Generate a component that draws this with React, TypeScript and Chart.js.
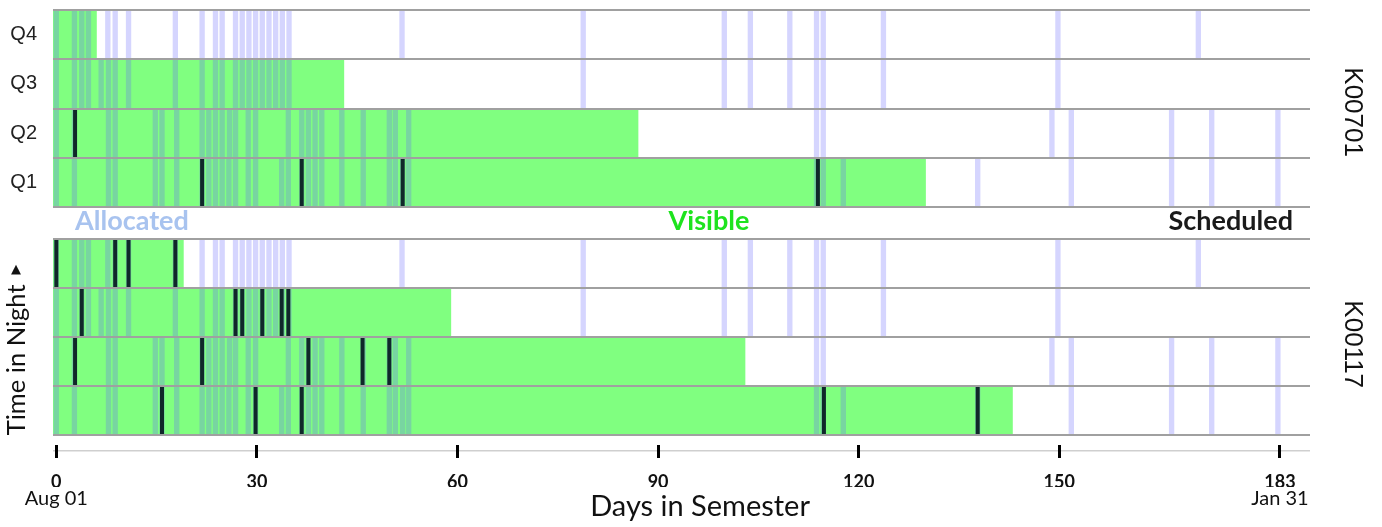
import React, { useEffect, useRef } from 'react';
import { Chart, registerables } from 'chart.js';

Chart.register(...registerables);

// ---------- data ----------
const ROWS = ['Q4', 'Q3', 'Q2', 'Q1'];
const DAY_MIN = -0.5;
const DAY_MAX = 187.5;
const DAY_TICKS = [0, 30, 60, 90, 120, 150, 183];
const DATE_TICKS = [0, 183];
const DATE_LABELS = ['Aug 01', 'Jan 31'];
const PROGRAMS = ['K00701', 'K00117'];
const LEGEND_LABELS = ['Allocated', 'Visible', 'Scheduled'];

const VISIBLE_START = -0.5;
const VISIBLE_END_K00701 = [6, 43, 87, 130];
const VISIBLE_END_K00117 = [19, 59, 103, 143];

const ALLOCATED_Q4 = [0, 2.7, 3.8, 4.8, 7.7, 8.8, 10.8, 17.8, 21.8, 23.8, 24.8, 26.8, 27.8, 28.8, 29.8, 30.8, 31.8, 32.8, 33.8, 34.8, 51.7, 78.8, 99.9, 103.8, 109.7, 113.7, 114.7, 123.7, 149.8, 170.8];
const ALLOCATED_Q3 = [0, 2.7, 3.8, 4.8, 6.7, 7.8, 8.8, 10.8, 17.8, 21.8, 23.8, 24.8, 26.8, 27.8, 28.8, 29.8, 30.8, 31.8, 32.8, 33.8, 34.8, 78.8, 99.9, 103.8, 109.7, 113.7, 114.7, 123.7, 149.8];
const ALLOCATED_Q2 = [0, 2.7, 7.8, 8.8, 14.8, 15.8, 18.0, 21.8, 22.8, 23.8, 24.8, 25.9, 26.8, 28.7, 29.8, 34.7, 36.7, 37.7, 38.7, 39.7, 42.7, 45.9, 49.8, 50.7, 52.7, 113.7, 114.7, 148.9, 151.8, 166.8, 172.8, 182.7];
const ALLOCATED_Q1 = [0, 2.7, 7.8, 8.8, 14.8, 15.8, 18.0, 21.8, 22.8, 23.8, 24.8, 25.8, 26.8, 28.7, 29.8, 33.7, 34.7, 36.7, 37.7, 38.7, 39.7, 42.7, 45.9, 49.8, 50.7, 51.8, 52.7, 113.7, 114.7, 117.7, 137.8, 151.8, 166.8, 172.8, 182.7];

const SCHEDULED_K00701_Q4: number[] = [];
const SCHEDULED_K00701_Q3: number[] = [];
const SCHEDULED_K00701_Q2 = [2.8];
const SCHEDULED_K00701_Q1 = [21.8, 36.7, 51.8, 113.9];

const SCHEDULED_K00117_Q4 = [0, 8.8, 10.8, 17.8];
const SCHEDULED_K00117_Q3 = [3.8, 26.8, 27.8, 30.8, 33.7, 34.7];
const SCHEDULED_K00117_Q2 = [2.8, 21.8, 37.7, 45.8, 49.8];
const SCHEDULED_K00117_Q1 = [15.8, 29.8, 36.7, 114.8, 137.8];

const ALLOCATED = [ALLOCATED_Q4, ALLOCATED_Q3, ALLOCATED_Q2, ALLOCATED_Q1];
const SCHEDULED_K00701 = [SCHEDULED_K00701_Q4, SCHEDULED_K00701_Q3, SCHEDULED_K00701_Q2, SCHEDULED_K00701_Q1];
const SCHEDULED_K00117 = [SCHEDULED_K00117_Q4, SCHEDULED_K00117_Q3, SCHEDULED_K00117_Q2, SCHEDULED_K00117_Q1];

// ---------- style ----------
const GREEN = '#80ff80';
const ALLOC_COLOR = 'rgba(100,100,250,0.27)';
const SCHED_COLOR = '#10282a';
const ROW_LINE = '#a0a0a0';
const ALLOC_HALF = 0.35;
const SCHED_HALF = 0.25;
const W = 1382;
const PLOT_LEFT = 53;
const PLOT_RIGHT_GAP = 72;

function panelConfig(program: string, visibleEnds: number[], scheduled: number[][], showRowLabels: boolean, leftTitle: string | null, rightShift: string, pad: { top: number; bottom: number }): any {
  const visibleData = ROWS.map((row, i) => ({ y: row, x: [VISIBLE_START, visibleEnds[i]] }));
  const allocData = ROWS.flatMap((row, i) => ALLOCATED[i].map((d) => ({ y: row, x: [d - ALLOC_HALF, d + ALLOC_HALF] })));
  const schedData = ROWS.flatMap((row, i) => scheduled[i].map((d) => ({ y: row, x: [d - SCHED_HALF, d + SCHED_HALF] })));
  const common = { barPercentage: 1, categoryPercentage: 1, grouped: false, borderWidth: 0 };
  return {
    type: 'bar',
    data: {
      labels: ROWS,
      datasets: [
        { label: 'Visible', data: visibleData, backgroundColor: GREEN, order: 3, ...common },
        { label: 'Allocated', data: allocData, backgroundColor: ALLOC_COLOR, order: 2, ...common },
        { label: 'Scheduled', data: schedData, backgroundColor: SCHED_COLOR, order: 1, ...common },
      ],
    },
    options: {
      indexAxis: 'y',
      animation: false,
      responsive: true,
      maintainAspectRatio: false,
      events: [],
      layout: { padding: { top: pad.top, bottom: pad.bottom, left: 0, right: 0 } },
      plugins: { legend: { display: false }, tooltip: { enabled: false } },
      scales: {
        x: { type: 'linear', min: DAY_MIN, max: DAY_MAX, display: false },
        y: {
          type: 'category',
          position: 'left',
          offset: true,
          grid: { offset: true, color: ROW_LINE, lineWidth: 2, drawTicks: false, z: 1 },
          border: { display: false },
          ticks: {
            display: showRowLabels,
            padding: 16,
            color: '#222',
            font: { family: 'Liberation Sans, Arial, sans-serif', size: 20 },
          },
          title: leftTitle
            ? {
                display: true,
                text: leftTitle,
                color: '#111',
                font: { family: 'Lato', size: 25.5 },
                padding: { top: 1, bottom: 0 },
              }
            : { display: false },
          afterFit: (s: any) => {
            s.width = PLOT_LEFT;
            s.paddingTop = 0;
            s.paddingBottom = 0;
          },
        },
        y2: {
          type: 'linear',
          position: 'right',
          grid: { display: false },
          border: { display: false },
          ticks: { display: false },
          title: {
            display: true,
            text: rightShift + program,
            color: '#111',
            font: { family: 'Liberation Sans, Arial, sans-serif', size: 26 },
            padding: { top: 14, bottom: 0 },
          },
          afterFit: (s: any) => {
            s.width = PLOT_RIGHT_GAP;
            s.paddingTop = 0;
            s.paddingBottom = 0;
          },
        },
      },
    },
  };
}

function axisConfig(): any {
  return {
    type: 'scatter',
    data: { datasets: [] },
    options: {
      animation: false,
      responsive: true,
      maintainAspectRatio: false,
      events: [],
      layout: { padding: { top: 7, bottom: 0, left: PLOT_LEFT, right: PLOT_RIGHT_GAP } },
      plugins: { legend: { display: false }, tooltip: { enabled: false } },
      scales: {
        x: {
          type: 'linear',
          position: 'bottom',
          weight: 0,
          min: DAY_MIN,
          max: DAY_MAX,
          afterBuildTicks: (s: any) => {
            s.ticks = DAY_TICKS.map((v) => ({ value: v }));
          },
          ticks: {
            autoSkip: false,
            maxRotation: 0,
            padding: 13,
            color: '#111',
            font: { family: 'Lato', size: 18, weight: 'bold' },
            callback: (v: any) => String(v),
          },
          grid: { color: '#000', lineWidth: 3, drawOnChartArea: true, drawTicks: false, z: -1 },
          border: { display: false },
          afterFit: (s: any) => {
            s.height = 29;
            s.paddingTop = 0;
            s.paddingBottom = 0;
          },
        },
        x2: {
          type: 'linear',
          position: 'bottom',
          weight: 1,
          min: DAY_MIN,
          max: DAY_MAX,
          afterBuildTicks: (s: any) => {
            s.ticks = DATE_TICKS.map((v) => ({ value: v }));
          },
          ticks: {
            autoSkip: false,
            maxRotation: 0,
            padding: 0,
            color: '#111',
            font: { family: 'Lato', size: 20 },
            callback: (_v: any, i: number) => DATE_LABELS[i],
          },
          grid: { display: false, drawTicks: false },
          border: { display: false },
          title: {
            display: true,
            text: '     Days in Semester',
            color: '#111',
            font: { family: 'Lato', size: 29 },
            padding: { top: 0, bottom: 3 },
          },
          afterFit: (s: any) => {
            s.height = 40;
            s.paddingTop = 0;
            s.paddingBottom = 0;
          },
        },
        y: {
          type: 'linear',
          display: true,
          min: 0,
          max: 13,
          afterBuildTicks: (s: any) => {
            s.ticks = [{ value: 7 }];
          },
          ticks: { display: false },
          grid: { color: '#cfcfcf', lineWidth: 1.5, drawTicks: false, z: -2 },
          border: { display: false },
          afterFit: (s: any) => {
            s.width = 0;
          },
        },
      },
    },
  };
}

function ChartBox({ make, left, top, width, height }: { make: () => any; left: number; top: number; width: number; height: number }) {
  const ref = useRef<HTMLCanvasElement | null>(null);
  useEffect(() => {
    if (!ref.current) return;
    const chart = new Chart(ref.current, make());
    return () => chart.destroy();
  }, []);
  return (
    <div style={{ position: 'absolute', left, top, width, height }}>
      <canvas ref={ref} />
    </div>
  );
}

const legendBase: React.CSSProperties = {
  position: 'absolute',
  top: 206,
  fontFamily: 'Lato, sans-serif',
  fontWeight: 700,
  fontSize: 27,
  lineHeight: '27px',
  whiteSpace: 'nowrap',
};

export default function App() {
  return (
    <div style={{ position: 'fixed', left: 0, top: 0, width: W, height: 527, background: '#fff', overflow: 'hidden' }}>
      <ChartBox
        make={() => panelConfig(PROGRAMS[0], VISIBLE_END_K00701, SCHEDULED_K00701, true, null, ' ', { top: 10, bottom: 8 })}
        left={0}
        top={0}
        width={W}
        height={215}
      />
      <ChartBox
        make={() => panelConfig(PROGRAMS[1], VISIBLE_END_K00117, SCHEDULED_K00117, false, 'Time in Night       ', '  ', { top: 14, bottom: 10 })}
        left={0}
        top={225}
        width={W}
        height={220}
      />
      <ChartBox make={axisConfig} left={0} top={438} width={W} height={89} />
      <div style={{ ...legendBase, left: 75, color: '#a8c3ef' }}>{LEGEND_LABELS[0]}</div>
      <div style={{ ...legendBase, left: 609, width: 200, textAlign: 'center', color: '#1ee31e' }}>{LEGEND_LABELS[1]}</div>
      <div style={{ ...legendBase, right: W - 1293, color: '#1a1a1a' }}>{LEGEND_LABELS[2]}</div>
      <div
        style={{
          position: 'absolute',
          left: 11,
          top: 262,
          fontFamily: 'DejaVu Sans, sans-serif',
          fontSize: 13,
          lineHeight: '13px',
          color: '#111',
        }}
      >
        ▲
      </div>
    </div>
  );
}
